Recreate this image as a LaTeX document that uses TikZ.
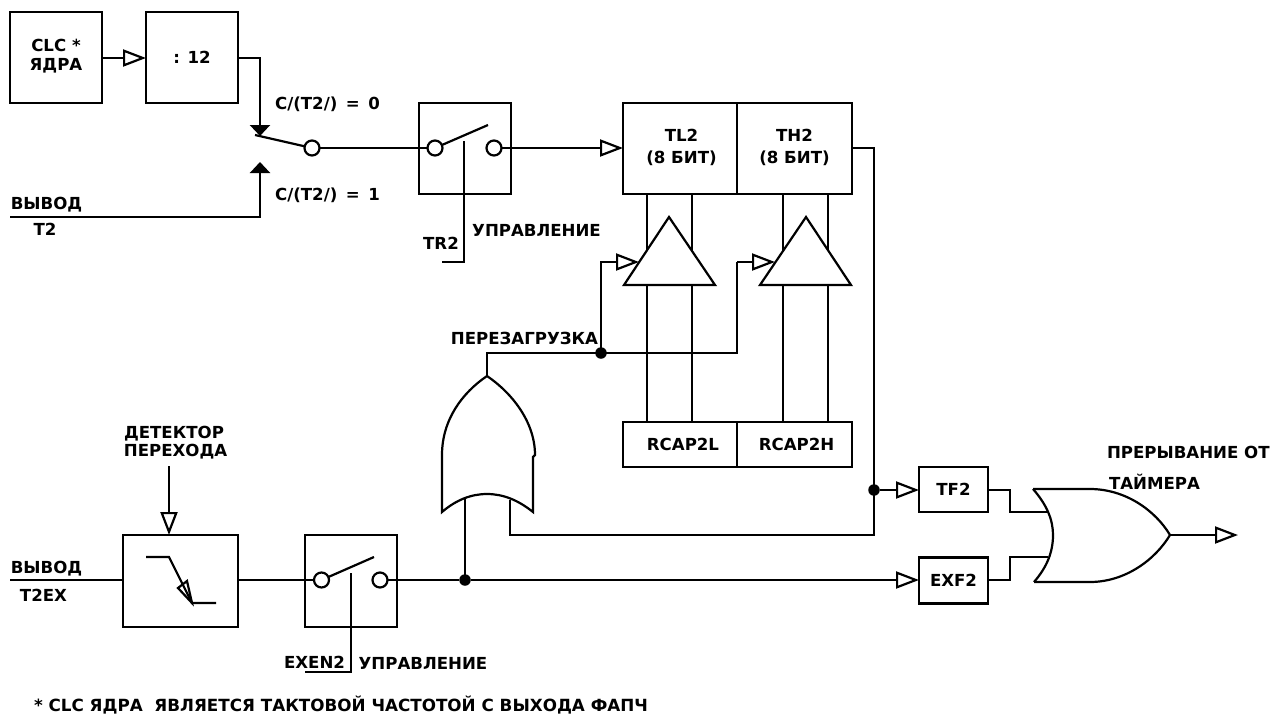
\documentclass[tikz,border=0pt]{standalone}
\usepackage{fontspec}
\setmainfont{DejaVu Sans}
\usetikzlibrary{arrows.meta}
\tikzset{
  every node/.style={outer sep=0pt},
  wire/.style={line width=2.2pt,line join=miter},
  oarrow/.style={wire,-{Triangle[open,length=23pt,width=17pt,line width=2.2pt]}},
  barrow/.style={wire,-{Triangle[length=11pt,width=20pt]}},
  blockbox/.style={draw,line width=2.2pt,inner sep=0pt,font=\lab,align=center},
  txt/.style={inner sep=0pt,font=\lab,anchor=west},
  ctxt/.style={inner sep=0pt,font=\lab},
  contact/.style={circle,draw,line width=2.2pt,minimum size=15pt,inner sep=0pt,fill=white},
  dot/.style={circle,fill=black,minimum size=11.5pt,inner sep=0pt},
}
\newcommand{\lab}{\fontsize{16.6}{19}\selectfont\bfseries}
\newcommand{\wsp}{\hspace{8.5pt}}
\begin{document}
\begin{tikzpicture}[x=1pt,y=-1pt]
\useasboundingbox (0,0) rectangle (1281,715);
% blocks
\node[blockbox,minimum width=92pt,minimum height=91pt] (clc) at (56,57.5) {\raisebox{-1pt}{\begin{tabular}{@{}c@{}}CLC *\\ЯДРА\end{tabular}}};
\node[blockbox,minimum width=92pt,minimum height=91pt] (div) at (192,57.5) {\raisebox{-2pt}{: 12}};
\node[blockbox,minimum width=92pt,minimum height=91pt] (sw1) at (465,148.5) {};
\node[blockbox,minimum width=114pt,minimum height=91pt] (tl) at (680,148.5) {\hspace*{3pt}\raisebox{-3pt}{\begin{tabular}{@{}c@{}}TL2\\[3pt](8 БИТ)\end{tabular}}};
\node[blockbox,minimum width=115pt,minimum height=91pt] (th) at (794.5,148.5) {\raisebox{-3pt}{\begin{tabular}{@{}c@{}}TH2\\[3pt](8 БИТ)\end{tabular}}};
\node[blockbox,minimum width=114pt,minimum height=45pt] (rl) at (680,444.5) {\hspace*{6pt}\raisebox{-2pt}{RCAP2L}};
\node[blockbox,minimum width=115pt,minimum height=45pt] (rh) at (794.5,444.5) {\hspace*{4pt}\raisebox{-2pt}{RCAP2H}};
\node[blockbox,minimum width=69pt,minimum height=45pt] (tf) at (953.5,489.5) {\raisebox{-2pt}{TF2}};
\node[blockbox,minimum width=69pt,minimum height=46pt] (exf) at (953.5,580.5) {\raisebox{-2pt}{EXF2}};
\node[blockbox,minimum width=115pt,minimum height=92pt] (det) at (180.5,581) {};
\node[blockbox,minimum width=92pt,minimum height=92pt] (sw2) at (351,581) {};
% contacts
\node[contact] (c0) at (312,148) {};
\node[contact] (c1) at (435,148) {};
\node[contact] (c2) at (494,148) {};
\node[contact] (c3) at (321.5,580) {};
\node[contact] (c4) at (380,580) {};
% dots
\node[dot] (j1) at (601,353) {};
\node[dot] (j2) at (874,490) {};
\node[dot] (j3) at (465,580) {};
% free coordinates
\coordinate (in1) at (10,217);
\coordinate (b1) at (260,217);
\coordinate (t1) at (260,162);
\coordinate (t0) at (260,136);
\coordinate (lev0) at (255,135);
\coordinate (lev1) at (488,125);
\coordinate (ctl1) at (464,141);
\coordinate (ctl1b) at (464,262);
\coordinate (ctl1c) at (442,262);
\coordinate (lev2) at (374,557);
\coordinate (ctl2) at (351,573);
\coordinate (ctl2b) at (351,672);
\coordinate (ctl2c) at (305,672);
\coordinate (in2) at (10,580);
\coordinate (dettop) at (169,466);
\coordinate (or1top) at (487,376);
\coordinate (or1a) at (465,498);
\coordinate (or1b) at (510,500);
\coordinate (or2out) at (1170,535);
\coordinate (outend) at (1238,535);
% text
\node[ctxt] (tc0) at (327.5,104) {C/(T2/)\wsp=\wsp0};
\node[ctxt] (tc1) at (327.5,195) {C/(T2/)\wsp=\wsp1};
\node[ctxt] (tv1) at (46.5,205) {ВЫВОД};
\node[ctxt] (tt2) at (45,229) {T2};
\node[ctxt] (ttr) at (441,243) {TR2};
\node[ctxt] (tu1) at (536.5,230) {УПРАВЛЕНИЕ};
\node[ctxt] (tre) at (524.5,338) {ПЕРЕЗАГРУЗКА};
\node[ctxt] (td1) at (174,434) {ДЕТЕКТОР};
\node[ctxt] (td2) at (175.5,452) {ПЕРЕХОДА};
\node[ctxt] (tv2) at (46.5,569) {ВЫВОД};
\node[ctxt] (tt2e) at (43.5,595) {T2EX};
\node[ctxt] (tex) at (314.5,662) {EXEN2};
\node[ctxt] (tu2) at (423,663) {УПРАВЛЕНИЕ};
\node[txt] (tp1) at (1107,452) {ПРЕРЫВАНИЕ ОТ};
\node[txt] (tp2) at (1109,482) {ТАЙМЕРА};
\node[txt] (tfoot) at (34,705.5) {\fontsize{16.76}{19}\selectfont * CLC ЯДРА~~ЯВЛЯЕТСЯ ТАКТОВОЙ ЧАСТОТОЙ С ВЫХОДА ФАПЧ};
% top path
\draw[oarrow] (clc.east |- 102,58) -- (div.west |- 146,58);
\draw[barrow] (div.east |- 238,58) -| (t0);
\draw[barrow] (in1) -- (b1) -- (t1);
\draw[wire] (lev0) -- (c0);
\draw[wire] (c0) -- (c1);
\draw[wire] (c1) -- (lev1);
\draw[wire] (ctl1) -- (ctl1b) -- (ctl1c);
\draw[oarrow] (c2) -- (tl.west |- 623,148);
% TH2 output down
\draw[wire] (th.east |- 852,148) -| (j2.center) -- (874,535) -- (510,535) -- (or1b);
\draw[oarrow] (j2) -- (tf.west |- 919,490);
% buffers
\foreach \xa/\xb/\nm in {647/692/tl,783/828/th}{
  \draw[wire] (\xa,194) -- (\xa,270);
  \draw[wire] (\xb,194) -- (\xb,270);
}
\draw[wire] (647,285) -- (647,422);
\draw[wire] (692,285) -- (692,422);
\draw[wire] (783,285) -- (783,422);
\draw[wire] (828,285) -- (828,422);
\draw[wire,fill=white,line join=miter] (669,217) -- (715,285) -- (624,285) -- cycle;
\draw[wire,fill=white,line join=miter] (806,217) -- (851,285) -- (760,285) -- cycle;
% reload
\draw[wire] (or1top) -- (487,353) -- (j1.center) -- (737,353) -- (737,262);
\draw[oarrow] (j1.center) -- (601,262) -- (639,262);
\draw[oarrow] (737,262) -- (775,262);
% OR gate 1
\draw[wire,fill=white] (442,512) -- (442,455) .. controls (442,420) and (462,393) .. (or1top)
  .. controls (512,393) and (535,422) .. (535,455) -- (533,457) -- (533,512)
  .. controls (518,500) and (503,494) .. (487,494) .. controls (471,494) and (456,500) .. (442,512) -- cycle;
\draw[wire] (j3.center) -- (or1a);
\draw[wire] (510,500) -- (510,535);
% lower path
\draw[wire] (in2) -- (det.west |- 123,580);
\draw[wire] (det.east |- 238,580) -- (c3);
\draw[wire] (c3) -- (lev2);
\draw[wire] (ctl2) -- (ctl2b) -- (ctl2c);
\draw[wire] (c4) -- (j3);
\draw[oarrow] (j3) -- (exf.west |- 919,580);
\draw[oarrow] (dettop) -- (169,535);
% edge symbol
\draw[wire] (146,557) -- (169,557) -- (192,603) -- (216,603);
\draw[wire,line join=miter] (192,603) -- (178,588) -- (187,581) -- cycle;
% OR gate 2
\draw[wire] (tf.east |- 988,490) -- (1010,490) -- (1010,512) -- (1048,512);
\draw[wire] (exf.east |- 988,580) -- (1010,580) -- (1010,557) -- (1048,557);
\draw[wire] (1033,489) -- (1090,489) .. controls (1125,489) and (1155,510) .. (or2out)
  .. controls (1155,560) and (1125,582) .. (1090,582) -- (1034,582);
\draw[wire] (1033,489) .. controls (1047,505) and (1053,520) .. (1053,535) .. controls (1053,552) and (1047,567) .. (1034,582);
\draw[oarrow] (or2out) -- (outend);
\end{tikzpicture}
\end{document}
